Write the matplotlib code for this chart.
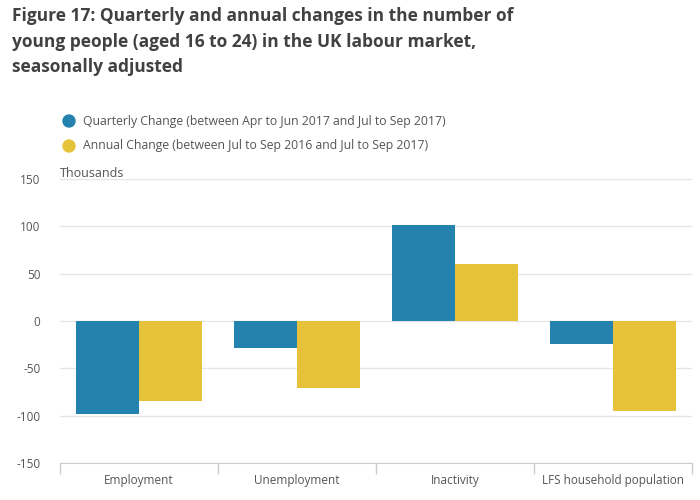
import matplotlib
matplotlib.use('Agg')
import matplotlib.pyplot as plt
from matplotlib.patches import Ellipse
import numpy as np

plt.rcParams['font.family'] = ['Open Sans', 'DejaVu Sans']

# data (thousands)
categories = ['Employment', 'Unemployment', 'Inactivity', 'LFS household population']
quarterly = [-98, -28, 101, -24]
annual = [-85, -71, 60, -95]
labels = ['Quarterly Change (between Apr to Jun 2017 and Jul to Sep 2017)',
          'Annual Change (between Jul to Sep 2016 and Jul to Sep 2017)']
yticks = [-150, -100, -50, 0, 50, 100, 150]
blue = '#2382ae'
yellow = '#e6c23b'

fig = plt.figure(figsize=(7, 5), dpi=100)
ax = fig.add_axes([0.0857, 0.074, 0.9029, 0.568])

x = np.arange(len(categories))
w = 0.4
ax.bar(x - w/2, quarterly, w, color=blue, zorder=3)
ax.bar(x + w/2, annual, w, color=yellow, zorder=3)

ax.set_xlim(-0.5, len(categories) - 0.5)
ax.set_ylim(-150, 150)
ax.set_yticks(yticks)
ax.set_yticklabels([str(t) for t in yticks])
ax.grid(axis='y', color='#e6e6e6', linewidth=1, zorder=0)
ax.set_xticks(x)
ax.set_xticklabels(categories)
ax.set_xticks(np.arange(len(categories) + 1) - 0.5, minor=True)
ax.tick_params(axis='x', which='major', length=0, pad=8, labelsize=8.5, labelcolor='#555555')
ax.tick_params(axis='x', which='minor', length=8, color='#cccccc', width=1)
ax.tick_params(axis='y', length=0, labelsize=8.5, labelcolor='#555555', pad=14)
for s in ['top', 'right', 'left']:
    ax.spines[s].set_visible(False)
ax.spines['bottom'].set_color('#cccccc')

fig.text(0.0857, 1 - 177 / 500, 'Thousands', fontsize=9, color='#555555')

# title
fig.text(0.017, 0.986, 'Figure 17: Quarterly and annual changes in the number of\n'
         'young people (aged 16 to 24) in the UK labour market,\nseasonally adjusted',
         fontsize=12.5, fontweight='bold', color='#414042', va='top', linespacing=1.55)

# legend
for i, (lab, col) in enumerate(zip(labels, [blue, yellow])):
    yy = 1 - (121 + 25 * i) / 500
    fig.patches.append(Ellipse((69 / 700, yy), 12 / 700, 12 / 500, transform=fig.transFigure,
                               color=col, figure=fig))
    fig.text(83 / 700, yy, lab, fontsize=8.8, color='#555555', va='center')

fig.savefig('out.png', dpi=100)
